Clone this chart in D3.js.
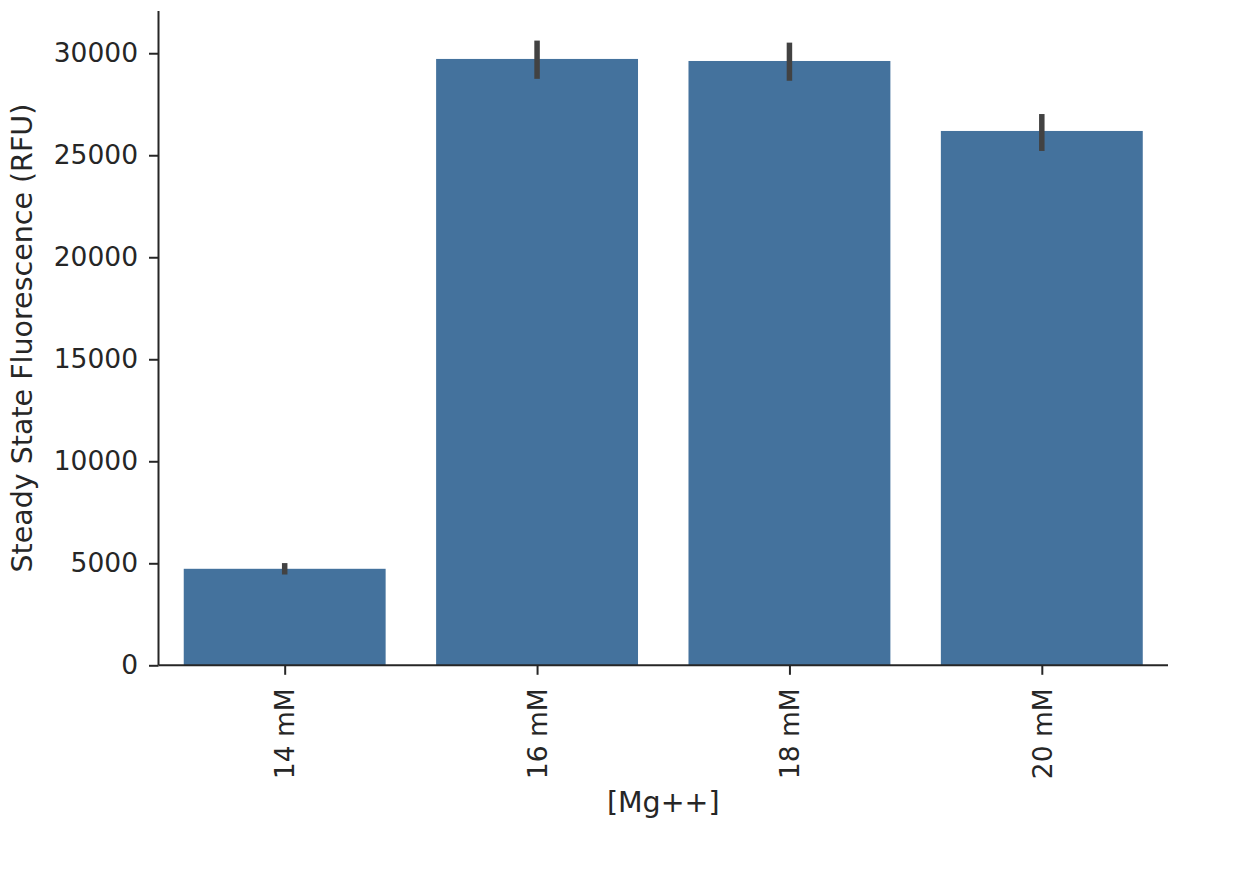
<!DOCTYPE html>
<html>
<head>
<meta charset="utf-8">
<script src="https://cdn.jsdelivr.net/npm/d3@7"></script>
<style>
  body { margin: 0; background: #fff; }
  text { font-family: "DejaVu Sans", sans-serif; fill: #262626; }
</style>
</head>
<body>
<script>
const SVG_WIDTH = 1236;
const SVG_HEIGHT = 880;
const BAR_COLOR = '#44729d';
const ERR_COLOR = '#424242';
const TICK_FONT = 26.5;
const LABEL_FONT = 28.5;

// data
const categories = ['14 mM', '16 mM', '18 mM', '20 mM'];
const means = [4730, 29720, 29620, 26190];
const errLow = [4450, 28745, 28650, 25210];
const errHigh = [5010, 30620, 30520, 27020];
const yTicks = [0, 5000, 10000, 15000, 20000, 25000, 30000];

const margin = { top: 11, right: 68, bottom: 214.7, left: 158.5 };
const width = SVG_WIDTH - margin.left - margin.right;
const height = SVG_HEIGHT - margin.top - margin.bottom;

const svg = d3.select('body').append('svg')
    .attr('width', SVG_WIDTH)
    .attr('height', SVG_HEIGHT);

const g = svg.append('g')
    .attr('transform', `translate(${margin.left},${margin.top})`);

// seaborn style: categories sit at 0..n-1, axis runs -0.5..n-0.5
const x = d3.scaleLinear()
    .domain([-0.5, categories.length - 0.5])
    .range([0, width]);

const y = d3.scaleLinear()
    .domain([0, 32070])
    .range([height, 0]);

const barW = x(0.8) - x(0);

g.selectAll('rect.bar')
  .data(means)
  .join('rect')
    .attr('class', 'bar')
    .attr('x', (d, i) => x(i) - barW / 2)
    .attr('y', d => y(d))
    .attr('width', barW)
    .attr('height', d => y(0) - y(d))
    .attr('fill', BAR_COLOR);

g.selectAll('line.err')
  .data(means)
  .join('line')
    .attr('class', 'err')
    .attr('x1', (d, i) => x(i))
    .attr('x2', (d, i) => x(i))
    .attr('y1', (d, i) => y(errLow[i]))
    .attr('y2', (d, i) => y(errHigh[i]))
    .attr('stroke', ERR_COLOR)
    .attr('stroke-width', 5.5);

// y axis
const yAxis = g.append('g')
    .call(d3.axisLeft(y).tickValues(yTicks).tickSize(9.5).tickPadding(11).tickFormat(d3.format('d')));

// x axis
const xAxis = g.append('g')
    .attr('transform', `translate(0,${height})`)
    .call(d3.axisBottom(x).tickValues(d3.range(categories.length)).tickSize(9.5).tickFormat(i => categories[i]));

[yAxis, xAxis].forEach(ax => {
  ax.select('.domain').attr('stroke', '#262626').attr('stroke-width', 2);
  ax.selectAll('.tick line').attr('stroke', '#262626').attr('stroke-width', 2);
  ax.selectAll('.tick text').attr('font-size', TICK_FONT).attr('fill', '#262626');
});

// spines without the end caps d3 draws
yAxis.select('.domain').attr('d', `M0,0V${height}`);
xAxis.select('.domain').attr('d', `M0,0H${width}`);

xAxis.selectAll('.tick text')
    .attr('transform', 'rotate(-90)')
    .attr('text-anchor', 'end')
    .attr('x', -23)
    .attr('y', 0)
    .attr('dy', '0.35em');

// axis titles
svg.append('text')
    .attr('transform', `translate(32,${margin.top + height / 2}) rotate(-90)`)
    .attr('text-anchor', 'middle')
    .attr('font-size', LABEL_FONT)
    .text('Steady State Fluorescence (RFU)');

svg.append('text')
    .attr('x', margin.left + width / 2)
    .attr('y', 812)
    .attr('text-anchor', 'middle')
    .attr('font-size', LABEL_FONT)
    .text('[Mg++]');
</script>
</body>
</html>
